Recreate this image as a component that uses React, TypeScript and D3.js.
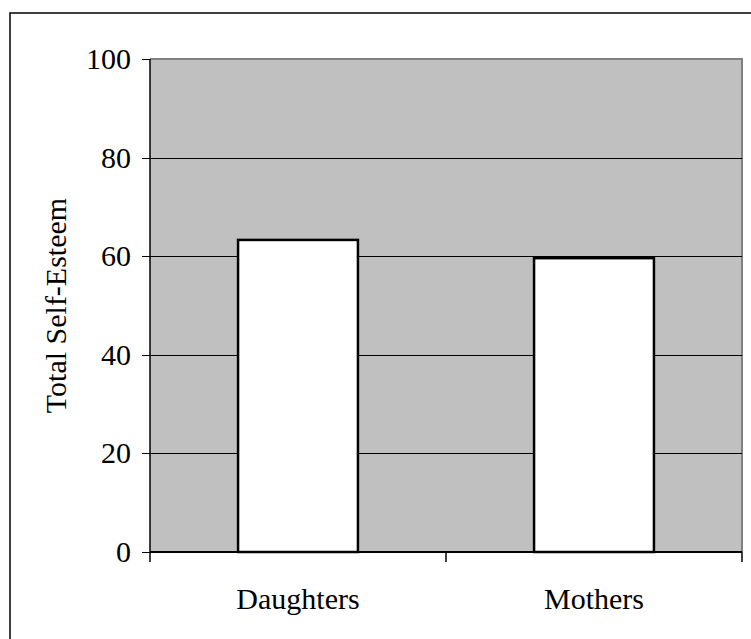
import React from "react";
import * as d3 from "d3";

const categories = ["Daughters", "Mothers"];
const values = [63.3, 59.6];
const yTicks = [0, 20, 40, 60, 80, 100];
const yLabel = "Total Self-Esteem";

const W = 751;
const H = 639;
const plot = { left: 150, right: 742, top: 59, bottom: 552 };
const FONT = "'Times New Roman', 'Liberation Serif', Times, serif";
const FS = 30;

export default function App() {
  const y = d3.scaleLinear().domain([0, 100]).range([plot.bottom, plot.top]);
  const xCat = d3.scaleBand<string>().domain(categories).range([plot.left, plot.right]);
  const xBar = d3
    .scaleBand<string>()
    .domain(categories)
    .range([plot.left, plot.right])
    .paddingInner(0.595)
    .paddingOuter(0.2975);

  const catEdges = [plot.left, ...categories.map((c) => (xCat(c) as number) + xCat.bandwidth())];

  return (
    <svg
      width={W}
      height={H}
      style={{ position: "absolute", left: 0, top: 0, background: "#fff", fontFamily: FONT }}
    >
      {/* outer chart frame */}
      <path d={`M10,${H + 5} L10,13 L${W + 5},13`} fill="none" stroke="#000" strokeWidth={1.5} />

      {/* plot area */}
      <rect
        x={plot.left}
        y={plot.top}
        width={plot.right - plot.left}
        height={plot.bottom - plot.top}
        fill="#c0c0c0"
      />
      <path
        d={`M${plot.left},${plot.top} L${plot.right},${plot.top} L${plot.right},${plot.bottom}`}
        fill="none"
        stroke="#808080"
        strokeWidth={2}
      />

      {/* gridlines */}
      {yTicks
        .filter((t) => t > 0 && t < 100)
        .map((t) => (
          <line
            key={`g${t}`}
            x1={plot.left}
            x2={plot.right}
            y1={Math.round(y(t)) + 0.5}
            y2={Math.round(y(t)) + 0.5}
            stroke="#000"
            strokeWidth={1}
          />
        ))}

      {/* bars */}
      {categories.map((c, i) => (
        <rect
          key={c}
          x={xBar(c)}
          y={y(values[i])}
          width={xBar.bandwidth()}
          height={plot.bottom - y(values[i])}
          fill="#fff"
          stroke="#000"
          strokeWidth={2.5}
        />
      ))}

      {/* y axis */}
      <line x1={plot.left} x2={plot.left} y1={plot.top} y2={plot.bottom} stroke="#000" strokeWidth={1.5} />
      {yTicks.map((t) => (
        <g key={`t${t}`}>
          <line
            x1={plot.left - 8}
            x2={plot.left}
            y1={Math.round(y(t)) + 0.5}
            y2={Math.round(y(t)) + 0.5}
            stroke="#000"
            strokeWidth={1}
          />
          <text x={131} y={y(t) + 10} textAnchor="end" fontSize={FS} fill="#000">
            {t}
          </text>
        </g>
      ))}

      {/* x axis */}
      <line x1={plot.left} x2={plot.right} y1={plot.bottom} y2={plot.bottom} stroke="#000" strokeWidth={2} />
      {catEdges.map((e, i) => (
        <line key={`x${i}`} x1={e} x2={e} y1={plot.bottom} y2={plot.bottom + 10} stroke="#000" strokeWidth={1.5} />
      ))}
      {categories.map((c) => (
        <text
          key={`l${c}`}
          x={(xCat(c) as number) + xCat.bandwidth() / 2}
          y={609}
          textAnchor="middle"
          fontSize={FS}
          fill="#000"
        >
          {c}
        </text>
      ))}

      {/* y axis title */}
      <text
        transform={`translate(66, ${(plot.top + plot.bottom) / 2}) rotate(-90)`}
        textAnchor="middle"
        fontSize={FS}
        fill="#000"
      >
        {yLabel}
      </text>
    </svg>
  );
}
